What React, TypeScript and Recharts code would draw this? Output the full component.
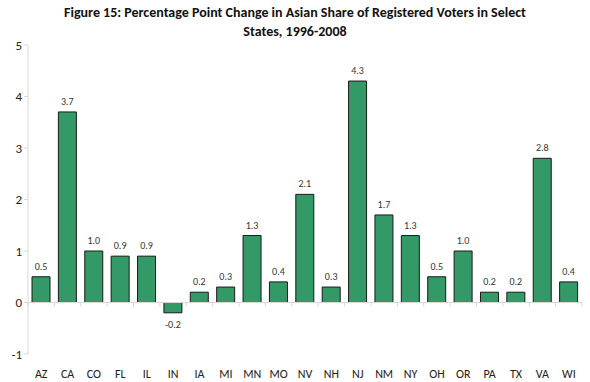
import { Bar, BarChart, LabelList, ReferenceLine, XAxis, YAxis } from "recharts";

const states = ["AZ", "CA", "CO", "FL", "IL", "IN", "IA", "MI", "MN", "MO", "NV", "NH", "NJ", "NM", "NY", "OH", "OR", "PA", "TX", "VA", "WI"];
const changes = [0.5, 3.7, 1.0, 0.9, 0.9, -0.2, 0.2, 0.3, 1.3, 0.4, 2.1, 0.3, 4.3, 1.7, 1.3, 0.5, 1.0, 0.2, 0.2, 2.8, 0.4];
const yTicks = [-1, 0, 1, 2, 3, 4, 5];

const data = states.map((state, i) => ({ state, change: changes[i] }));

const font = "Carlito, 'Open Sans', sans-serif";
const axisGray = "#d9d9d9";

const W = 590;
const H = 382;
const TOP = 45;
const X_AXIS_H = 28;
const PLOT_H = H - TOP - X_AXIS_H;
const zeroY = TOP + (PLOT_H * 5) / 6;

function renderStateTick(props: { x?: number; y?: number; payload?: { value?: string }; index?: number }) {
  const { x = 0, y = 0, payload } = props;
  const band = (W - 8 - 28) / states.length;
  return (
    <g>
      <line x1={x + band / 2} x2={x + band / 2} y1={zeroY} y2={zeroY + 4} stroke={axisGray} />
      {props.index === 0 && <line x1={x - band / 2} x2={x - band / 2} y1={zeroY} y2={zeroY + 4} stroke={axisGray} />}
      <text x={x} y={y + 16} textAnchor="middle" fontSize={12} fill="#222" fontFamily={font}>
        {payload?.value}
      </text>
    </g>
  );
}

function renderValueLabel(props: { x?: number | string; y?: number | string; width?: number | string; height?: number | string; value?: number | string }) {
  const x = Number(props.x ?? 0);
  const y = Number(props.y ?? 0);
  const w = Number(props.width ?? 0);
  const h = Number(props.height ?? 0);
  const v = Number(props.value ?? 0);
  const top = Math.min(y, y + h);
  const bottom = Math.max(y, y + h);
  return (
    <text x={x + w / 2} y={v >= 0 ? top - 7 : bottom + 15} textAnchor="middle" fontSize={10} fill="#333" fontFamily={font}>
      {v.toFixed(1)}
    </text>
  );
}

export default function App() {
  return (
    <div style={{ position: "absolute", left: 0, top: 0, width: W, height: H, background: "#fff" }}>
      <div
        style={{
          position: "absolute",
          left: 0,
          top: 3,
          width: W,
          textAlign: "center",
          fontFamily: font,
          fontWeight: "bold",
          fontSize: 14,
          lineHeight: "19px",
          color: "#111",
        }}
      >
        Figure 15: Percentage Point Change in Asian Share of Registered Voters in Select
        <br />
        States, 1996-2008
      </div>
      <BarChart width={W} height={H} data={data} margin={{ top: TOP, right: 8, bottom: 0, left: 0 }} barSize={18}>
        <XAxis
          dataKey="state"
          axisLine={false}
          tickLine={false}
          interval={0}
          height={X_AXIS_H}
          tick={renderStateTick}
        />
        <YAxis
          domain={[-1, 5]}
          ticks={yTicks}
          width={28}
          axisLine={{ stroke: axisGray }}
          tickLine={{ stroke: axisGray }}
          tickSize={4}
          tick={{ fontSize: 13, fill: "#222", fontFamily: font }}
        />
        <ReferenceLine y={0} stroke={axisGray} />
        <Bar dataKey="change" fill="#339966" stroke="#1a1a1a" strokeWidth={1} isAnimationActive={false}>
          <LabelList dataKey="change" content={renderValueLabel} />
        </Bar>
      </BarChart>
    </div>
  );
}
